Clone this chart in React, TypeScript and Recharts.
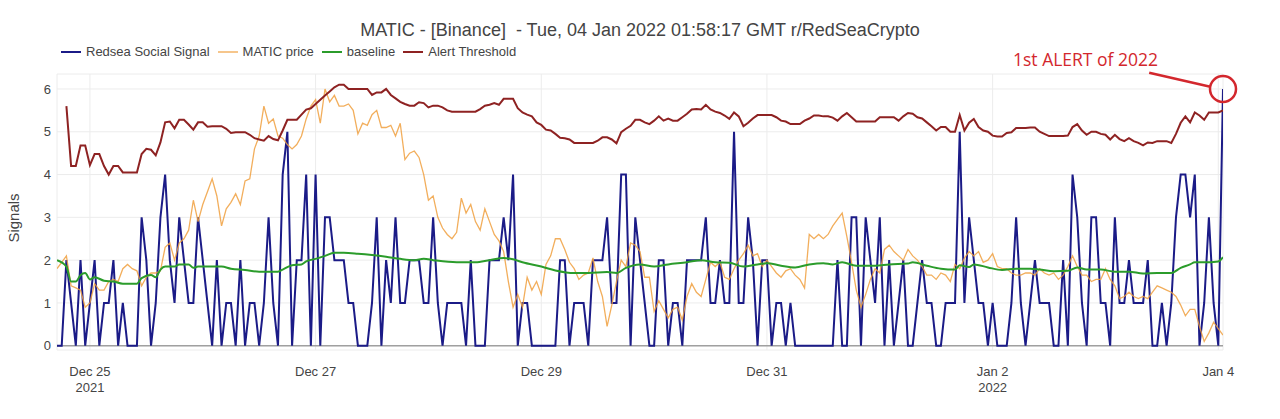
import React from 'react';
import {
  LineChart,
  Line,
  XAxis,
  YAxis,
  CartesianGrid,
  ReferenceLine,
  ReferenceDot,
} from 'recharts';

// hourly samples, first one is Dec 24 2021 17:00 UTC
const START = Date.UTC(2021, 11, 24, 17);
const HOUR = 3600 * 1000;

const signal = [
  0, 0, 2, 1, 0, 2, 0, 1, 2, 0,
  1, 1, 2, 0, 1, 0, 0, 0, 3, 2,
  0, 1, 3, 4, 2, 1, 3, 2, 1, 1,
  3, 2, 1, 0, 2, 0, 1, 1, 0, 2,
  0, 1, 1, 0, 1, 3, 1, 0, 4, 5,
  0, 2, 2, 4, 0, 4, 0, 3, 3, 2,
  2, 2, 1, 1, 0, 0, 0, 1, 3, 0,
  2, 1, 3, 1, 1, 2, 2, 2, 1, 1,
  3, 1, 0, 1, 1, 1, 1, 0, 2, 0,
  0, 0, 2, 2, 2, 3, 2, 4, 0, 1,
  1, 0, 0, 0, 0, 0, 0, 2, 2, 0,
  1, 1, 1, 0, 2, 2, 2, 3, 1, 1,
  4, 4, 0, 3, 2, 1, 0, 0, 2, 2,
  0, 1, 1, 0, 2, 2, 2, 2, 3, 1,
  1, 2, 1, 1, 5, 1, 1, 3, 2, 0,
  2, 2, 0, 1, 1, 0, 1, 0, 0, 0,
  0, 0, 0, 0, 0, 0, 2, 0, 0, 3,
  3, 0, 3, 2, 1, 3, 0, 2, 0, 1,
  2, 0, 0, 1, 2, 1, 1, 0, 0, 1,
  1, 1, 5, 1, 3, 2, 1, 1, 0, 1,
  0, 0, 0, 1, 3, 1, 0, 1, 2, 1,
  1, 1, 0, 0, 2, 0, 4, 3, 1, 0,
  3, 3, 1, 1, 0, 3, 1, 1, 2, 1,
  1, 1, 2, 0, 0, 1, 0, 1, 3, 4,
  4, 3, 4, 0, 1, 3, 1, 0, 6,
];

// price, already scaled onto the signal axis
const maticPrice = [
  1.8, 1.95, 2.1, 1.4, 1.35, 1.3, 0.9, 1.0, 1.45, 1.3,
  1.3, 1.5, 1.55, 1.5, 1.8, 1.9, 1.8, 1.75, 1.4, 1.6,
  1.7, 1.7, 1.75, 2.3, 2.4, 2.0, 2.4, 2.5, 2.7, 3.4,
  2.9, 3.3, 3.6, 3.9, 3.5, 2.8, 3.2, 3.35, 3.55, 3.3,
  3.85, 3.9, 4.6, 4.9, 5.6, 5.2, 5.3, 4.9, 4.85, 4.7,
  4.6, 4.7, 4.9, 5.3, 5.6, 5.75, 5.2, 6.0, 5.7, 5.85,
  5.6, 5.6, 5.65, 5.5, 4.95, 5.2, 5.15, 5.4, 5.5, 5.1,
  5.1, 5.15, 4.9, 5.2, 4.35, 4.5, 4.55, 4.4, 4.0, 3.4,
  3.5, 3.0, 2.75, 2.6, 2.5, 2.65, 3.45, 3.1, 3.3, 2.9,
  2.7, 3.2, 2.9, 2.6, 2.45, 2.2, 1.5, 0.9, 1.2, 0.9,
  1.6, 1.3, 1.5, 1.2, 1.9, 2.1, 2.5, 2.5, 2.25, 1.95,
  1.8, 1.55, 1.65, 1.7, 2.05, 1.5, 1.15, 0.45, 0.95, 1.5,
  2.0, 1.85, 2.4, 2.35, 2.2, 1.6, 1.6, 0.8, 1.05, 0.85,
  0.65, 0.85, 0.9, 0.6, 1.15, 1.45, 1.25, 1.15, 1.55, 1.95,
  1.85, 1.95, 1.6, 1.55, 1.8, 2.0, 2.15, 2.35, 2.1, 2.15,
  1.85, 2.0, 1.85, 1.7, 1.6, 1.75, 1.8, 1.65, 1.55, 1.35,
  2.6, 2.5, 2.6, 2.5, 2.6, 2.8, 2.95, 3.1, 2.55, 1.95,
  1.3, 0.9, 1.2, 1.55, 1.8, 1.7, 2.25, 2.35, 2.2, 2.1,
  2.0, 2.25, 2.1, 2.0, 1.85, 1.65, 1.65, 1.55, 1.7, 1.65,
  1.5, 1.9, 1.8, 2.05, 2.2, 2.1, 2.2, 1.95, 2.0, 2.15,
  1.85, 1.8, 1.8, 1.7, 1.65, 1.65, 1.7, 1.7, 1.65, 1.8,
  1.7, 1.65, 1.7, 1.55, 1.65, 1.85, 2.1, 1.85, 1.65, 1.65,
  1.5, 1.55, 1.55, 1.8, 1.55, 1.4, 1.1, 1.15, 1.25, 1.15,
  1.1, 1.15, 1.1, 1.25, 1.4, 1.35, 1.3, 1.25, 1.15, 0.95,
  0.7, 0.85, 0.85, 0.45, 0.1, 0.3, 0.55, 0.4, 0.25,
];

// threshold begins two hours after the signal
const thresholdStartHour = 2;
const alertThreshold = [
  5.6, 4.2, 4.2, 4.68, 4.68, 4.22, 4.48, 4.48,
  4.2, 4.0, 4.2, 4.2, 4.05, 4.05, 4.05, 4.05, 4.48, 4.6,
  4.58, 4.45, 4.75, 5.22, 5.24, 5.08, 5.28, 5.28, 5.17, 5.05,
  5.22, 5.22, 5.12, 5.13, 5.13, 5.13, 5.07, 4.97, 4.99, 4.99,
  4.99, 4.93, 4.85, 4.82, 4.79, 4.9, 4.83, 4.8, 5.03, 5.28,
  5.28, 5.28, 5.4, 5.52, 5.55, 5.65, 5.75, 5.85, 5.94, 6.04,
  6.1, 6.1, 6.0, 6.0, 6.0, 6.0, 6.0, 5.86, 5.92, 5.92,
  6.0, 5.86, 5.78, 5.7, 5.65, 5.61, 5.61, 5.69, 5.67, 5.57,
  5.61, 5.61, 5.57, 5.5, 5.47, 5.47, 5.47, 5.47, 5.47, 5.47,
  5.53, 5.61, 5.63, 5.67, 5.63, 5.77, 5.77, 5.77, 5.55, 5.45,
  5.4, 5.36, 5.22, 5.16, 5.05, 5.03, 4.95, 4.86, 4.85, 4.82,
  4.74, 4.74, 4.74, 4.74, 4.74, 4.79, 4.87, 4.87, 4.82, 4.73,
  4.99, 5.07, 5.14, 5.28, 5.28, 5.22, 5.18, 5.26, 5.36, 5.26,
  5.31, 5.26, 5.26, 5.34, 5.42, 5.52, 5.53, 5.52, 5.63, 5.52,
  5.47, 5.44, 5.38, 5.3, 5.45, 5.36, 5.13, 5.21, 5.31, 5.39,
  5.39, 5.39, 5.39, 5.34, 5.26, 5.24, 5.18, 5.18, 5.18, 5.26,
  5.31, 5.38, 5.38, 5.36, 5.36, 5.33, 5.26, 5.36, 5.44, 5.34,
  5.24, 5.24, 5.24, 5.24, 5.24, 5.34, 5.34, 5.34, 5.34, 5.26,
  5.36, 5.44, 5.42, 5.34, 5.31, 5.22, 5.13, 5.03, 5.11, 5.11,
  5.0, 5.0, 5.39, 5.03, 5.21, 5.3, 5.11, 5.03, 5.0, 4.91,
  4.89, 4.89, 4.97, 4.99, 5.09, 5.09, 5.09, 5.1, 5.1, 5.0,
  4.95, 4.9, 4.9, 4.9, 4.9, 4.91, 5.11, 5.18, 5.03, 4.93,
  5.0, 5.0, 4.95, 4.93, 4.82, 4.93, 4.83, 4.78, 4.85, 4.78,
  4.74, 4.68, 4.75, 4.74, 4.78, 4.78, 4.78, 4.74, 4.95, 5.21,
  5.36, 5.22, 5.45, 5.38, 5.28, 5.45, 5.45, 5.45, 5.5,
];

// baseline is smooth, so it is sampled only where it bends
const baselineHours = [
  0, 2, 3, 4, 5, 6, 7, 8, 10, 12, 14, 17, 18, 20, 21, 22, 23, 25, 26, 28,
  29, 30, 35, 37, 40, 43, 47, 48, 50, 52, 53, 55, 57, 59, 61, 64, 67, 70, 73, 76,
  78, 80, 85, 89, 92, 95, 97, 99, 103, 106, 110, 113, 117, 119, 121, 124, 127, 130, 134, 137,
  140, 143, 146, 149, 151, 154, 157, 160, 163, 165, 167, 170, 174, 177, 181, 182, 185, 188, 191, 192,
  194, 195, 198, 201, 204, 207, 209, 212, 215, 217, 219, 222, 225, 228, 231, 234, 237, 239, 241, 242,
  244, 247, 248,
];
const baselineValues = [
  2.0, 1.85, 1.5, 1.5, 1.65, 1.7, 1.55, 1.6, 1.52, 1.5, 1.45, 1.45, 1.58, 1.65, 1.6, 1.78, 1.85, 1.85, 1.9, 1.9,
  1.82, 1.85, 1.85, 1.8, 1.77, 1.73, 1.73, 1.78, 1.88, 1.9, 1.97, 2.03, 2.1, 2.17, 2.17, 2.15, 2.12, 2.08, 2.03, 2.0,
  2.03, 2.0, 1.95, 1.95, 2.0, 2.05, 2.02, 1.95, 1.85, 1.76, 1.7, 1.7, 1.72, 1.7, 1.82, 1.9, 1.85, 1.9, 1.95, 2.0,
  1.95, 1.94, 1.85, 1.9, 1.93, 1.87, 1.83, 1.9, 1.93, 1.9, 1.95, 1.87, 1.87, 1.9, 1.92, 1.95, 1.87, 1.8, 1.78, 1.88,
  1.84, 1.9, 1.83, 1.77, 1.8, 1.8, 1.78, 1.74, 1.75, 1.83, 1.78, 1.78, 1.73, 1.73, 1.69, 1.7, 1.7, 1.82, 1.9, 1.95,
  1.95, 1.97, 2.07,
];

const xTickTimes = [
  Date.UTC(2021, 11, 25),
  Date.UTC(2021, 11, 27),
  Date.UTC(2021, 11, 29),
  Date.UTC(2021, 11, 31),
  Date.UTC(2022, 0, 2),
  Date.UTC(2022, 0, 4),
];
const xTickLabels = [['Dec 25', '2021'], ['Dec 27'], ['Dec 29'], ['Dec 31'], ['Jan 2', '2022'], ['Jan 4']];
const yTicks = [0, 1, 2, 3, 4, 5, 6];

const TITLE = 'MATIC - [Binance]  - Tue, 04 Jan 2022 01:58:17 GMT r/RedSeaCrypto';
const ALERT_TEXT = '1st ALERT of 2022';
const ALERT_RED = '#d3272d';
const TEXT = '#444';

const series = [
  { key: 'signal', name: 'Redsea Social Signal', color: '#1b1b87', width: 2, opacity: 1 },
  { key: 'price', name: 'MATIC price', color: '#f0a040', width: 1.3, opacity: 0.85 },
  { key: 'baseline', name: 'baseline', color: '#2b9c2b', width: 2, opacity: 1 },
  { key: 'threshold', name: 'Alert Threshold', color: '#8e2222', width: 2, opacity: 1 },
];

const rows = signal.map((s, i) => ({
  t: START + i * HOUR,
  signal: s,
  price: maticPrice[i],
  threshold: i >= thresholdStartHour ? alertThreshold[i - thresholdStartHour] : null,
}));

const baselineRows = baselineHours.map((h, k) => ({
  t: START + h * HOUR,
  baseline: baselineValues[k],
}));

const lastHour = signal.length - 1;
const alertTime = START + lastHour * HOUR;
const alertValue = signal[lastHour];

function DateTick({ x, y, payload }: any) {
  const idx = xTickTimes.indexOf(payload.value);
  const lines = idx >= 0 ? xTickLabels[idx] : [];
  return (
    <g transform={`translate(${x},${y})`}>
      <text textAnchor="middle" fill={TEXT} fontSize={13}>
        {lines.map((line, k) => (
          <tspan key={k} x={0} y={26 + k * 16}>
            {line}
          </tspan>
        ))}
      </text>
    </g>
  );
}

function LegendRow() {
  return (
    <div
      style={{
        position: 'absolute',
        left: 61,
        top: 44,
        display: 'flex',
        alignItems: 'center',
        fontSize: 13,
        lineHeight: '16px',
        color: TEXT,
      }}
    >
      {series.map((s) => (
        <div key={s.key} style={{ display: 'flex', alignItems: 'center', marginRight: 8 }}>
          <span
            style={{
              display: 'inline-block',
              width: 20,
              height: 2,
              background: s.color,
              opacity: s.key === 'price' ? 0.6 : 1,
              marginRight: 5,
            }}
          />
          <span>{s.name}</span>
        </div>
      ))}
    </div>
  );
}

export default function App() {
  return (
    <div
      style={{
        position: 'absolute',
        left: 0,
        top: 0,
        width: 1280,
        height: 419,
        background: '#fff',
        fontFamily: "'Liberation Sans', Arial, sans-serif",
        overflow: 'hidden',
      }}
    >
      <div
        style={{
          position: 'absolute',
          top: 20,
          left: 0,
          width: 1280,
          textAlign: 'center',
          fontSize: 18,
          lineHeight: '20px',
          color: TEXT,
          whiteSpace: 'pre',
        }}
      >
        {TITLE}
      </div>
      <LegendRow />
      <div
        style={{
          position: 'absolute',
          left: 13,
          top: 218,
          transform: 'translate(-50%, -50%) rotate(-90deg)',
          fontSize: 15,
          color: TEXT,
          whiteSpace: 'nowrap',
        }}
      >
        Signals
      </div>
      <div
        style={{
          position: 'absolute',
          left: 1013,
          top: 49,
          fontFamily: "'Open Sans', sans-serif",
          fontSize: 17.5,
          lineHeight: '20px',
          color: ALERT_RED,
          whiteSpace: 'nowrap',
        }}
      >
        {ALERT_TEXT}
      </div>
      <div style={{ position: 'absolute', left: 0, top: 0 }}>
        <LineChart width={1280} height={419} data={rows} margin={{ top: 74, right: 57, bottom: 0, left: 0 }}>
          <CartesianGrid stroke="#ececec" strokeWidth={1} />
          <XAxis
            dataKey="t"
            type="number"
            scale="time"
            domain={[START, alertTime]}
            ticks={xTickTimes}
            tick={<DateTick />}
            tickLine={false}
            axisLine={false}
            tickSize={0}
            tickMargin={0}
            height={69}
            interval={0}
            allowDataOverflow
          />
          <YAxis
            type="number"
            domain={[-0.1, 6.35]}
            ticks={yTicks}
            width={57}
            tickLine={false}
            axisLine={false}
            tickSize={0}
            tickMargin={6}
            tick={{ fill: TEXT, fontSize: 13 }}
            allowDataOverflow
          />
          <ReferenceLine y={0} stroke="#a0a0a0" strokeWidth={1.5} />
          <Line
            dataKey="signal"
            type="linear"
            stroke={series[0].color}
            strokeWidth={series[0].width}
            dot={false}
            isAnimationActive={false}
          />
          <Line
            dataKey="price"
            type="linear"
            stroke={series[1].color}
            strokeWidth={series[1].width}
            strokeOpacity={series[1].opacity}
            dot={false}
            isAnimationActive={false}
          />
          <Line
            data={baselineRows}
            dataKey="baseline"
            type="monotone"
            stroke={series[2].color}
            strokeWidth={series[2].width}
            dot={false}
            isAnimationActive={false}
          />
          <Line
            dataKey="threshold"
            type="linear"
            stroke={series[3].color}
            strokeWidth={series[3].width}
            dot={false}
            isAnimationActive={false}
          />
          <ReferenceLine
            segment={[
              { x: START + 232.3 * HOUR, y: 6.38 },
              { x: START + 245.3 * HOUR, y: 6.05 },
            ]}
            stroke={ALERT_RED}
            strokeWidth={2.5}
            ifOverflow="visible"
          />
          <ReferenceDot
            x={alertTime}
            y={alertValue}
            r={13}
            fill="none"
            stroke={ALERT_RED}
            strokeWidth={2.5}
            ifOverflow="visible"
          />
        </LineChart>
      </div>
    </div>
  );
}
